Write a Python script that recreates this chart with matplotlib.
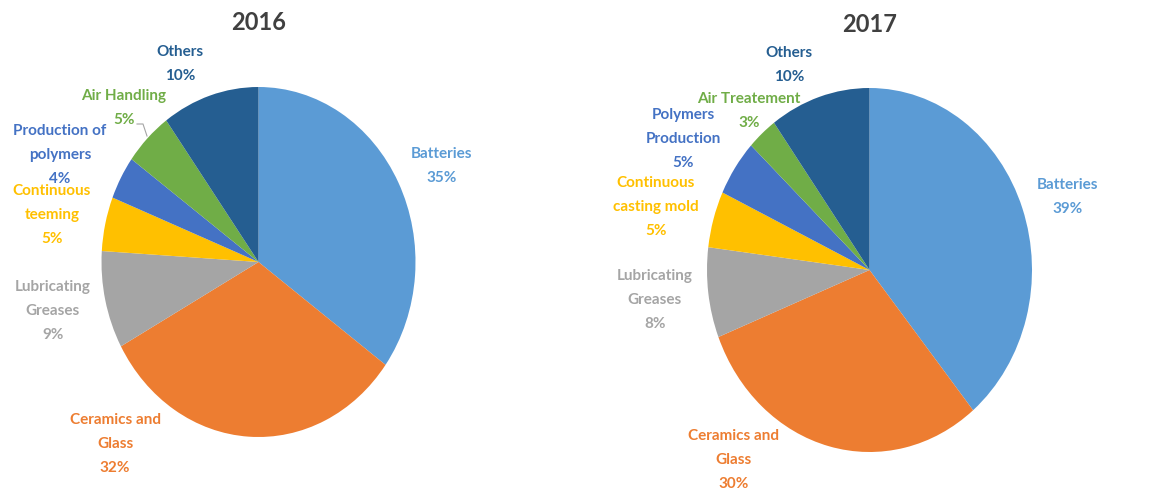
import matplotlib.pyplot as plt

# data
categories_2016 = ['Batteries', 'Ceramics and\nGlass', 'Lubricating\nGreases', 'Continuous\nteeming',
                   'Production of\npolymers', 'Air Handling', 'Others']
values_2016 = [35, 32, 9, 5, 4, 5, 10]

categories_2017 = ['Batteries', 'Ceramics and\nGlass', 'Lubricating\nGreases', 'Continuous\ncasting mold',
                   'Polymers\nProduction', 'Air Treatement', 'Others']
values_2017 = [39, 30, 8, 5, 5, 3, 10]

colors = ['#5B9BD5', '#ED7D31', '#A5A5A5', '#FFC000', '#4472C4', '#70AD47', '#255E91']

W, H = 1168, 495
LINE_STEP = 24  # px between label lines

# layout in pixels (x, y from top); the pies are slightly stretched vertically
pie_2016 = dict(center=(258.5, 262), rx=157, ry=175, title=(259, 23))
pie_2017 = dict(center=(869.5, 270), rx=162.5, ry=182, title=(870, 24))
labels_pos_2016 = [(442, 166), (115, 444), (53, 311), (52, 215), (60, 155), (124, 108), (180, 64)]
labels_pos_2017 = [(1068, 197), (734, 460), (655, 300), (656, 207), (683, 139), (749, 111), (789, 65)]

plt.rcParams['font.family'] = ['Lato', 'DejaVu Sans']

fig = plt.figure(figsize=(W / 100, H / 100), dpi=100)


def draw_pie(values, layout):
    cx, cy = layout['center']
    rx, ry = layout['rx'], layout['ry']
    pax = fig.add_axes([(cx - rx) / W, (H - cy - ry) / H, 2 * rx / W, 2 * ry / H])
    pax.pie(values, colors=colors, startangle=90, counterclock=False,
            radius=1, wedgeprops=dict(linewidth=0))
    pax.set_aspect('auto')
    pax.set_xlim(-1, 1)
    pax.set_ylim(-1, 1)
    pax.axis('off')


draw_pie(values_2016, pie_2016)
draw_pie(values_2017, pie_2017)

# overlay in pixel coordinates for the texts
ax = fig.add_axes([0, 0, 1, 1])
ax.set_xlim(0, W)
ax.set_ylim(0, H)
ax.axis('off')


def draw_labels(values, cats, layout, label_pos, year):
    tx, ty = layout['title']
    ax.text(tx, H - ty, year, ha='center', va='center', fontsize=17,
            fontweight='bold', color='#404040')
    for cat, val, col, (lx, ly) in zip(cats, values, colors, label_pos):
        lines = cat.split('\n') + [f'{val}%']
        n = len(lines)
        for i, line in enumerate(lines):
            y = ly + (i - (n - 1) / 2) * LINE_STEP
            ax.text(lx, H - y, line, ha='center', va='center',
                    fontsize=11, fontweight='bold', color=col)


draw_labels(values_2016, categories_2016, pie_2016, labels_pos_2016, '2016')
draw_labels(values_2017, categories_2017, pie_2017, labels_pos_2017, '2017')

# little leader line for Air Handling 5%
ax.plot([137, 143, 147], [H - 124, H - 124, H - 136], color='#A5A5A5', linewidth=0.8)

fig.savefig('out.png', dpi=100, facecolor='white')
